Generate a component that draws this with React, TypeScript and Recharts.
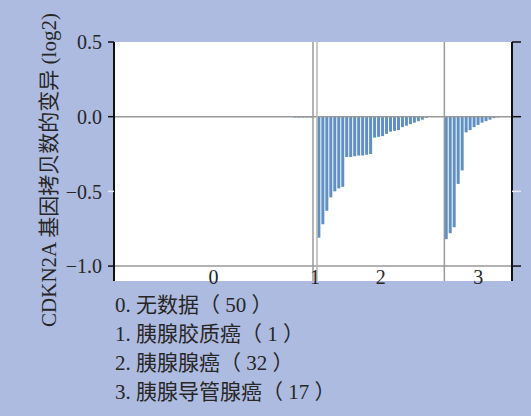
import React from 'react';
import { ComposedChart, Bar, XAxis, YAxis, ReferenceLine, ReferenceArea, CartesianGrid } from 'recharts';

// log2 copy-number change per sample, grouped by diagnosis
const noData = [
  0, 0, 0, 0, 0, 0, 0, 0, 0, 0,
  0, 0, 0, 0, 0, 0, 0, 0, 0, 0,
  0, 0, 0, 0, 0, 0, 0, 0, 0, 0,
  0, 0, 0, 0, 0, 0, 0, 0, 0, 0,
  0, 0, 0, 0, 0, -0.006, -0.006, -0.006, -0.006, -0.006,
];
const glioma = [0];
const adenocarcinoma = [
  -0.81, -0.72, -0.63, -0.54, -0.5, -0.48, -0.47, -0.27, -0.27, -0.265,
  -0.26, -0.26, -0.255, -0.25, -0.14, -0.135, -0.13, -0.115, -0.1, -0.095,
  -0.09, -0.07, -0.06, -0.05, -0.04, -0.03, -0.02, -0.008, 0, 0, 0, 0,
];
const ductal = [
  -0.82, -0.78, -0.74, -0.45, -0.36, -0.105, -0.09, -0.07, -0.055, -0.04,
  -0.03, -0.02, -0.01, -0.005, 0, 0, 0,
];

const groups = [noData, glioma, adenocarcinoma, ductal];
const groupLabels = ['0', '1', '2', '3'];
const groupNames = ['无数据', '胰腺胶质癌', '胰腺腺癌', '胰腺导管腺癌'];
const yTicks = [0.5, 0, -0.5, -1.0];

const rows = groups.flatMap((g, gi) => g.map((v, i) => ({ id: `g${gi}-${i}`, v })));
const firstId = (gi: number) => `g${gi}-0`;
const lastId = (gi: number) => `g${gi}-${groups[gi].length - 1}`;

const BG = '#aebbe0';
const INK = '#262626';
const SERIF = '"Liberation Serif", "Noto Sans CJK SC", serif';

const fmt = (v: number) => v.toFixed(1).replace('-', '\u2212');

const LeftTick = (props: any) => {
  const { x, y, payload } = props;
  const faint = payload.value === -0.5;
  return (
    <g>
      <line x1={x + 6} x2={x + 12} y1={y} y2={y} stroke={faint ? '#e6e9f5' : '#111'} strokeWidth={1.5} />
      <text x={x} y={y} dy="0.36em" textAnchor="end" fontSize={20} fill={INK} fontFamily={SERIF}>
        {fmt(payload.value)}
      </text>
    </g>
  );
};

const RightTick = (props: any) => {
  const { x, y, payload } = props;
  const faint = payload.value === -0.5;
  return <line x1={x - 9} x2={x} y1={y} y2={y} stroke={faint ? '#e6e9f5' : '#111'} strokeWidth={1.5} />;
};

export default function App() {
  return (
    <div
      style={{
        position: 'absolute',
        left: 0,
        top: 0,
        width: 531,
        height: 416,
        background: BG,
        fontFamily: SERIF,
        overflow: 'hidden',
      }}
    >
      <ComposedChart
        width={531}
        height={416}
        data={rows}
        margin={{ top: 42, right: 9, bottom: 135, left: 50 }}
        barCategoryGap="10%"
      >
        <CartesianGrid fill="#ffffff" horizontal={false} vertical={false} yAxisId="left" />
        <XAxis dataKey="id" height={0} tick={false} tickLine={false} axisLine={{ stroke: '#111', strokeWidth: 2 }} />
        <XAxis
          xAxisId="top"
          orientation="top"
          dataKey="id"
          height={0}
          tick={false}
          tickLine={false}
          axisLine={{ stroke: '#111', strokeWidth: 2 }}
        />
        <YAxis
          yAxisId="left"
          width={64}
          domain={[-1.1, 0.5]}
          ticks={yTicks}
          allowDataOverflow
          tickSize={6}
          tickMargin={6}
          tickLine={false}
          tick={<LeftTick />}
          axisLine={{ stroke: '#111', strokeWidth: 2 }}
        />
        <YAxis
          yAxisId="right"
          orientation="right"
          width={10}
          domain={[-1.1, 0.5]}
          ticks={yTicks}
          allowDataOverflow
          tickSize={9}
          tickMargin={0}
          tickLine={false}
          tick={<RightTick />}
          axisLine={{ stroke: '#111', strokeWidth: 2 }}
        />
        <Bar yAxisId="left" dataKey="v" fill="#5f90c4" isAnimationActive={false} />
        <ReferenceLine yAxisId="left" y={0} stroke="#999" strokeWidth={1.5} />
        <ReferenceLine yAxisId="left" y={-1.0} stroke="#999" strokeWidth={1.5} />
        {[1, 2, 3].map((gi) => (
          <ReferenceLine
            key={gi}
            yAxisId="left"
            x={firstId(gi)}
            position="start"
            stroke={gi === 2 ? '#b5b5b5' : '#9a9a9a'}
            strokeWidth={1.5}
          />
        ))}
        {groupLabels.map((lab, gi) => (
          <ReferenceArea
            key={lab}
            yAxisId="left"
            x1={firstId(gi)}
            x2={lastId(gi)}
            y1={-1.1}
            y2={-1.0}
            fill="none"
            stroke="none"
            ifOverflow="hidden"
            label={{ value: lab, position: 'insideBottom', offset: -3, fontSize: 20, fill: INK, fontFamily: SERIF }}
          />
        ))}
      </ComposedChart>

      <div
        style={{
          position: 'absolute',
          left: 47,
          top: 170,
          transform: 'translate(-50%, -50%) rotate(-90deg)',
          whiteSpace: 'nowrap',
          fontSize: 21,
          color: INK,
        }}
      >
        CDKN2A 基因拷贝数的变异 (log2)
      </div>

      <div style={{ position: 'absolute', left: 115, top: 291, fontSize: 21, lineHeight: '29px', color: INK }}>
        {groupNames.map((name, gi) => (
          <div key={gi} style={{ whiteSpace: 'nowrap' }}>
            {groupLabels[gi]}. {name}（ {groups[gi].length} ）
          </div>
        ))}
      </div>
    </div>
  );
}
